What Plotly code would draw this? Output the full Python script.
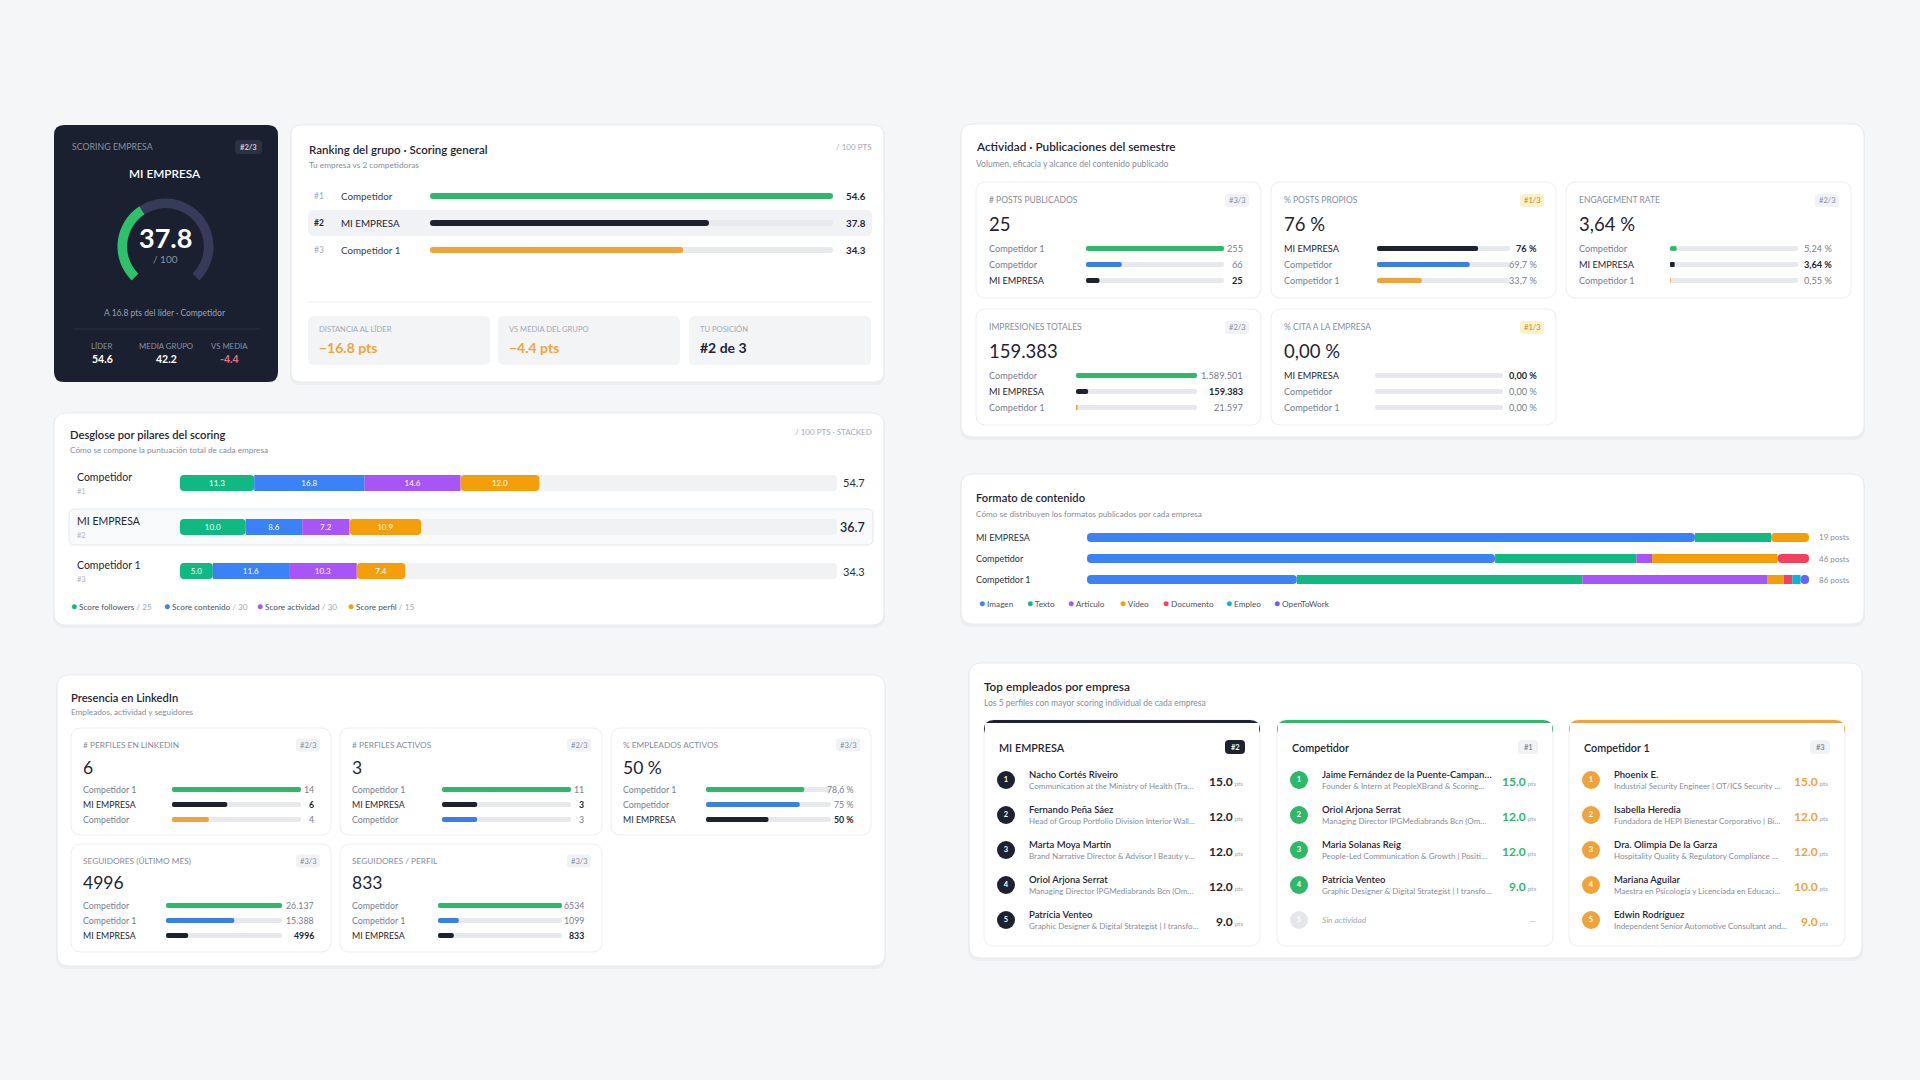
import plotly.graph_objects as go

W, H = 1920, 1080
FONT = "Lato, 'Open Sans', 'Noto Sans', sans-serif"

# ===================== DATA =====================
company_mine = "MI EMPRESA"

# Scoring card
score_mine = 37.8
score_leader = 54.6
leader_name = "Competidor"
score_group_mean = 42.2
score_vs_mean = -4.4

# Ranking
ranking_names = ["Competidor", "MI EMPRESA", "Competidor 1"]
ranking_scores = [54.6, 37.8, 34.3]

# Breakdown by pillar (stacked, / 100)
pillar_labels = ["Score followers", "Score contenido", "Score actividad", "Score perfil"]
pillar_max = [25, 30, 30, 15]
breakdown_names = ["Competidor", "MI EMPRESA", "Competidor 1"]
pillar_followers = [11.3, 10.0, 5.0]
pillar_contenido = [16.8, 8.6, 11.6]
pillar_actividad = [14.6, 7.2, 10.3]
pillar_perfil = [12.0, 10.9, 7.4]

# Activity metrics
posts_names = ["Competidor 1", "Competidor", "MI EMPRESA"]
posts_values = [255, 66, 25]
propios_names = ["MI EMPRESA", "Competidor", "Competidor 1"]
propios_values = [76, 69.7, 33.7]
engagement_names = ["Competidor", "MI EMPRESA", "Competidor 1"]
engagement_values = [5.24, 3.64, 0.55]
impresiones_names = ["Competidor", "MI EMPRESA", "Competidor 1"]
impresiones_values = [1589501, 159383, 21597]
cita_names = ["MI EMPRESA", "Competidor", "Competidor 1"]
cita_values = [0, 0, 0]

# Content format (post counts)
format_labels = ["Imagen", "Texto", "Artículo", "Vídeo", "Documento", "Empleo", "OpenToWork"]
format_names = ["MI EMPRESA", "Competidor", "Competidor 1"]
fmt_imagen = [16, 26, 25]
fmt_texto = [2, 9, 34]
fmt_articulo = [0, 1, 22]
fmt_video = [1, 8, 2]
fmt_documento = [0, 2, 1]
fmt_empleo = [0, 0, 1]
fmt_opentowork = [0, 0, 1]

# LinkedIn presence
perfiles_names = ["Competidor 1", "MI EMPRESA", "Competidor"]
perfiles_values = [14, 6, 4]
activos_names = ["Competidor 1", "MI EMPRESA", "Competidor"]
activos_values = [11, 3, 3]
empleados_names = ["Competidor 1", "Competidor", "MI EMPRESA"]
empleados_values = [78.6, 75, 50]
seguidores_names = ["Competidor", "Competidor 1", "MI EMPRESA"]
seguidores_values = [26137, 15388, 4996]
segperfil_names = ["Competidor", "Competidor 1", "MI EMPRESA"]
segperfil_values = [6534, 1099, 833]

# Top employees
emp_mi_names = ["Nacho Cortés Riveiro", "Fernando Peña Sáez", "Marta Moya Martín",
                "Oriol Arjona Serrat", "Patrícia Venteo"]
emp_mi_roles = ["Communication at the Ministry of Health (Tra…",
                "Head of Group Portfolio Division Interior Wall…",
                "Brand Narrative Director & Advisor I Beauty y…",
                "Managing Director IPGMediabrands Bcn (Om…",
                "Graphic Designer & Digital Strategist | I transfo…"]
emp_mi_scores = [15.0, 12.0, 12.0, 12.0, 9.0]
emp_comp_names = ["Jaime Fernández de la Puente-Campan…", "Oriol Arjona Serrat",
                  "Maria Solanas Reig", "Patrícia Venteo"]
emp_comp_roles = ["Founder & Intern at PeopleXBrand & Scoring…",
                  "Managing Director IPGMediabrands Bcn (Om…",
                  "People-Led Communication & Growth | Positi…",
                  "Graphic Designer & Digital Strategist | I transfo…"]
emp_comp_scores = [15.0, 12.0, 12.0, 9.0]
emp_comp1_names = ["Phoenix E.", "Isabella Heredia", "Dra. Olimpia De la Garza",
                   "Mariana Aguilar", "Edwin Rodríguez"]
emp_comp1_roles = ["Industrial Security Engineer | OT/ICS Security …",
                   "Fundadora de HEPI Bienestar Corporativo | Bi…",
                   "Hospitality Quality & Regulatory Compliance …",
                   "Maestra en Psicología y Licenciada en Educaci…",
                   "Independent Senior Automotive Consultant and…"]
emp_comp1_scores = [15.0, 12.0, 12.0, 10.0, 9.0]

# ===================== STYLE =====================
BG = "#f5f6f8"
CARD = "#ffffff"
CARD_LINE = "#e8eaee"
SUB_LINE = "#eceef2"
DARK_CARD = "#1b2030"
TXT = "#1f2533"
MUTED = "#868d9b"
GREYTXT = "#777e8e"
FAINT = "#a3a9b5"
TRACK = "#e7e9ed"
GREEN = "#2fb86a"
BLUE = "#3b7fe0"
ORANGE = "#f0a33a"
DARKBAR = "#1d2130"
RANK_COLORS = {1: GREEN, 2: BLUE, 3: ORANGE}
PILLAR_COLORS = ["#10b981", "#3b82f6", "#a855f7", "#f59e0b"]
FORMAT_COLORS = ["#3b82f6", "#10b981", "#a855f7", "#f59e0b", "#f43f5e", "#06b6d4", "#6366f1"]

shapes, annotations, traces = [], [], []
axes = {}
_axc = [0]


def X(px):
    return px / W


def Y(py):
    return 1 - py / H


def rrect(x0, y0, x1, y1, r, fill, line=None, lw=1):
    rx, ry = r / W, r / H
    a0, a1, b0, b1 = X(x0), X(x1), Y(y0), Y(y1)
    p = (f"M{a0+rx},{b0} L{a1-rx},{b0} Q{a1},{b0} {a1},{b0-ry} "
         f"L{a1},{b1+ry} Q{a1},{b1} {a1-rx},{b1} L{a0+rx},{b1} "
         f"Q{a0},{b1} {a0},{b1+ry} L{a0},{b0-ry} Q{a0},{b0} {a0+rx},{b0} Z")
    shapes.append(dict(type="path", xref="paper", yref="paper", path=p, fillcolor=fill,
                       line=dict(color=line if line else "rgba(0,0,0,0)", width=lw if line else 0),
                       layer="below"))


def card(x0, y0, x1, y1, r=12):
    rrect(x0 - 1, y0 + 1, x1 + 1, y1 + 3, r, "rgba(30,40,70,0.035)")
    rrect(x0, y0, x1, y1, r, CARD, CARD_LINE)


def hline(x0, x1, y, color):
    shapes.append(dict(type="line", xref="paper", yref="paper", x0=X(x0), x1=X(x1), y0=Y(y), y1=Y(y),
                       line=dict(color=color, width=1), layer="below"))


def txt(x, y, s, size=9, color=TXT, anchor="left", weight=400, italic=False):
    annotations.append(dict(x=X(x), y=Y(y), xref="paper", yref="paper", text=s, showarrow=False,
                            xanchor=anchor, yanchor="middle", align=anchor, borderpad=0,
                            font=dict(family=FONT, size=size, color=color, weight=weight,
                                      style="italic" if italic else "normal")))


def new_axes(x0, x1, y0, y1, xr, yr):
    _axc[0] += 1
    i = _axc[0]
    s = "" if i == 1 else str(i)
    axes["xaxis" + s] = dict(domain=[X(x0), X(x1)], range=xr, visible=False, fixedrange=True, anchor="y" + s)
    axes["yaxis" + s] = dict(domain=[Y(y1), Y(y0)], range=yr, visible=False, fixedrange=True, anchor="x" + s)
    return "x" + s, "y" + s


def pill(xa, ya, ys, starts, ends, colors, width, radius="50%"):
    """Bar rounded at both ends: two overlapping bars, one grown leftwards, one rightwards."""
    lens = [e - s for s, e in zip(starts, ends)]
    traces.append(go.Bar(x=[-0.6 * L for L in lens], base=[s + 0.6 * L for s, L in zip(starts, lens)],
                         y=ys, orientation="h", width=width,
                         marker=dict(color=colors, cornerradius=radius, line=dict(width=0)),
                         xaxis=xa, yaxis=ya, hoverinfo="skip", showlegend=False))
    traces.append(go.Bar(x=[0.6 * L for L in lens], base=[s + 0.4 * L for s, L in zip(starts, lens)],
                         y=ys, orientation="h", width=width,
                         marker=dict(color=colors, cornerradius=radius, line=dict(width=0)),
                         xaxis=xa, yaxis=ya, hoverinfo="skip", showlegend=False))


def progress_rows(x0, x1, ys, values, vmax, colors, thick, track=TRACK):
    n = len(values)
    sp = ys[1] - ys[0]
    xa, ya = new_axes(x0, x1, ys[0] - sp / 2, ys[-1] + sp / 2, [0, vmax], [n - 0.5, -0.5])
    idx = list(range(n))
    pill(xa, ya, idx, [0] * n, [vmax] * n, track, thick / sp)
    pill(xa, ya, idx, [0] * n, values, colors, thick / sp)


def segment(xa, ya, yi, start, v, color, width, kind, radius, label=None, tsize=8):
    if kind == "only":
        pill(xa, ya, [yi], [start], [start + v], color, width, radius)
        return
    if kind == "first":
        base, xv, cr = start + v, -v, radius
    elif kind == "last":
        base, xv, cr = start, v, radius
    else:
        base, xv, cr = start, v, 0
    traces.append(go.Bar(x=[xv], base=[base], y=[yi], orientation="h", width=width,
                         marker=dict(color=color, cornerradius=cr, line=dict(width=0)),
                         text=[label] if label else None, texttemplate="%{text}" if label else None,
                         textposition="inside" if label else "none", insidetextanchor="middle",
                         textangle=0, textfont=dict(color="white", size=tsize, family=FONT),
                         xaxis=xa, yaxis=ya, hoverinfo="skip", showlegend=False))


def stacked_rows(xa, ya, seg_lists, colors, width, radius, labels=False):
    n = len(seg_lists[0])
    for i in range(n):
        vals = [s[i] for s in seg_lists]
        nz = [j for j, v in enumerate(vals) if v > 0]
        cum = 0
        for j, v in enumerate(vals):
            if v > 0:
                if len(nz) == 1:
                    kind = "only"
                elif j == nz[0]:
                    kind = "first"
                elif j == nz[-1]:
                    kind = "last"
                else:
                    kind = "mid"
                segment(xa, ya, i, cum, v, colors[j], width, kind, radius,
                        label=f"{v:.1f}" if labels else None)
            cum += v


def fmt_es(v, dec=None):
    if dec is None:
        s = str(int(v)) if float(v).is_integer() else f"{v:.1f}"
    else:
        s = f"{v:.{dec}f}"
    ip, _, frac = s.partition(".")
    if len(ip) >= 5:
        parts = []
        while len(ip) > 3:
            parts.insert(0, ip[-3:])
            ip = ip[:-3]
        parts.insert(0, ip)
        ip = ".".join(parts)
    return ip + ("," + frac if frac else "")


def comp_rank(values, v):
    return 1 + sum(1 for u in values if u > v)


def bar_colors(names, values):
    return [DARKBAR if n == company_mine else RANK_COLORS[comp_rank(values, v)]
            for n, v in zip(names, values)]


def metric_card(box, label, names, values, dec, pct, bar_off, val_off, pad, dys, big_size, fs, lfs):
    x0, y0, x1, y1 = box
    rrect(x0, y0, x1, y1, 10, CARD, SUB_LINE)
    dl, db, r1, r2, r3 = dys
    txt(x0 + pad, y0 + dl, label, lfs, MUTED)
    mv = values[names.index(company_mine)]
    rk = comp_rank(values, mv)
    gold = rk == 1
    bw = 24
    rrect(x1 - pad - bw, y0 + dl - 6.5, x1 - pad, y0 + dl + 6.5, 3, "#fdf0cc" if gold else "#f1f2f5")
    txt(x1 - pad - bw / 2, y0 + dl, f"#{rk}/{len(values)}", 7.6, "#c58b1c" if gold else MUTED, anchor="center")
    suf = " %" if pct else ""
    txt(x0 + pad, y0 + db, fmt_es(mv, dec) + suf, big_size, TXT)
    ys = [y0 + r1, y0 + r2, y0 + r3]
    vmax = 100 if pct else max(values)
    progress_rows(x0 + bar_off[0], x1 - bar_off[1], ys, values, vmax, bar_colors(names, values), 5)
    for n, v, yy in zip(names, values, ys):
        m = n == company_mine
        txt(x0 + pad, yy, n, fs, TXT if m else GREYTXT)
        txt(x1 - val_off, yy, fmt_es(v, dec) + suf, fs, TXT if m else GREYTXT, anchor="right",
            weight=700 if m else 400)


# ===================== CARD A : dark scoring =====================
rrect(54, 125, 278, 382, 10, DARK_CARD)
txt(71, 146, "SCORING EMPRESA", 8.8, "#8a90a2")
mine_rank = comp_rank(ranking_scores, score_mine)
rrect(235, 140, 262, 154, 4, "#2c3245")
txt(248.5, 147, f"#{mine_rank}/{len(ranking_scores)}", 7.6, "#c9cdd8", anchor="center", weight=700)
txt(165, 173, company_mine, 11.8, "#ffffff", anchor="center", weight=600)
gauge_total = 100
gap = gauge_total * 90 / 270
traces.append(go.Pie(values=[score_mine, gauge_total - score_mine, gap],
                     marker=dict(colors=["#2ec16b", "#363c58", "rgba(0,0,0,0)"], line=dict(width=0)),
                     hole=0.8, sort=False, direction="clockwise", rotation=225,
                     textinfo="none", hoverinfo="skip", showlegend=False,
                     domain=dict(x=[X(117.5), X(213.5)], y=[Y(294.5), Y(198.5)])))
txt(165, 237, f"{score_mine:.1f}", 27, "#ffffff", anchor="center", weight=700)
txt(165, 259, "/ 100", 10, "#8a90a2", anchor="center")
txt(165, 313, f"A {score_leader - score_mine:.1f} pts del líder · {leader_name}", 8.5, "#9aa0b2", anchor="center")
hline(73, 260, 329, "#2a3043")
for xx, lab, val, col in [(102, "LÍDER", f"{score_leader:.1f}", "#ffffff"),
                          (166, "MEDIA GRUPO", f"{score_group_mean:.1f}", "#ffffff"),
                          (229, "VS MEDIA", f"{score_vs_mean:.1f}", "#e76f8a")]:
    txt(xx, 346, lab, 7.8, "#8a90a2", anchor="center")
    txt(xx, 359, val, 10.5, col, anchor="center", weight=700)

# ===================== CARD B : ranking =====================
card(291, 125, 884, 382, 10)
txt(308, 150, "Ranking del grupo · Scoring general", 11.5, TXT, weight=600)
txt(308, 165, "Tu empresa vs 2 competidoras", 8.3, MUTED)
txt(872, 147, "/ 100 PTS", 8, FAINT, anchor="right")
rank_ys = [196, 223, 250]
mi_idx = ranking_names.index(company_mine)
rrect(308, rank_ys[mi_idx] - 13, 872, rank_ys[mi_idx] + 13, 6, "#f1f2f5")
progress_rows(430, 833, rank_ys, ranking_scores, max(ranking_scores),
              bar_colors(ranking_names, ranking_scores), 6)
for i, (n, v, yy) in enumerate(zip(ranking_names, ranking_scores, rank_ys)):
    m = n == company_mine
    txt(313, yy, f"#{i + 1}", 8.5, TXT if m else FAINT, weight=700 if m else 400)
    txt(340, yy, n, 9.8, TXT if m else "#3a4050")
    txt(867, yy, f"{v:.1f}", 9.8, TXT, anchor="right", weight=700)
hline(308, 872, 302, "#eceef2")
stat_boxes = [(308, 490), (498, 680), (689, 871)]
stat_labels = ["DISTANCIA AL LÍDER", "VS MEDIA DEL GRUPO", "TU POSICIÓN"]
stat_values = [f"−{score_leader - score_mine:.1f} pts", f"−{abs(score_vs_mean):.1f} pts",
               f"#{mine_rank} de {len(ranking_scores)}"]
stat_colors = [ORANGE, ORANGE, TXT]
for (a, b), lab, val, col in zip(stat_boxes, stat_labels, stat_values, stat_colors):
    rrect(a, 316, b, 365, 6, "#f3f4f6")
    txt(a + 10, 329, lab, 7.6, FAINT)
    txt(a + 10, 348, val, 14, col, weight=700)

# ===================== CARD C : activity =====================
card(961, 124, 1864, 437, 12)
txt(975, 147, "Actividad · Publicaciones del semestre", 11.8, TXT, weight=600)
txt(975, 164, "Volumen, eficacia y alcance del contenido publicado", 8.5, MUTED)
C_DYS = (18.5, 42, 66.5, 82.5, 98.5)
CF, CL, CB = 9.2, 8.5, 18.5
metric_card((976, 182, 1261, 298), "# POSTS PUBLICADOS", posts_names, posts_values, 0, False,
            (110, 37), 17, 12, C_DYS, CB, CF, CL)
metric_card((1271, 182, 1556, 298), "% POSTS PROPIOS", propios_names, propios_values, None, True,
            (106, 46), 18, 12, C_DYS, CB, CF, CL)
metric_card((1566, 182, 1851, 298), "ENGAGEMENT RATE", engagement_names, engagement_values, 2, True,
            (104, 53), 18, 12, C_DYS, CB, CF, CL)
metric_card((976, 309, 1261, 425), "IMPRESIONES TOTALES", impresiones_names, impresiones_values, 0, False,
            (100, 64), 17, 12, C_DYS, CB, CF, CL)
metric_card((1271, 309, 1556, 425), "% CITA A LA EMPRESA", cita_names, cita_values, 2, True,
            (104, 53), 18, 12, C_DYS, CB, CF, CL)

# ===================== CARD D : breakdown =====================
card(54, 413, 884, 625, 12)
txt(69, 434, "Desglose por pilares del scoring", 11.2, TXT, weight=600)
txt(69, 450, "Cómo se compone la puntuación total de cada empresa", 8.2, MUTED)
txt(873, 432, "/ 100 PTS · STACKED", 8, FAINT, anchor="right")
d_ys = [483, 527, 571]
bmi = breakdown_names.index(company_mine)
rrect(69, d_ys[bmi] - 18, 873, d_ys[bmi] + 18, 6, "#f8fafc", "#e2e8ef")
dxa, dya = new_axes(180, 837, d_ys[0] - 22, d_ys[-1] + 22, [0, 100], [2.5, -0.5])
pill(dxa, dya, [0, 1, 2], [0, 0, 0], [100, 100, 100], "#f1f2f4", 16 / 44, radius=4)
pillars = [pillar_followers, pillar_contenido, pillar_actividad, pillar_perfil]
stacked_rows(dxa, dya, pillars, PILLAR_COLORS, 16 / 44, 4, labels=True)
for i, (n, yy) in enumerate(zip(breakdown_names, d_ys)):
    m = n == company_mine
    total = sum(p[i] for p in pillars)
    txt(76, yy - 6, n, 10.5, TXT)
    txt(76, yy + 8, f"#{i + 1}", 7.5, "#b0b5c0")
    txt(866, yy, f"{total:.1f}", 12.5 if m else 11, TXT if m else "#2a3040", anchor="right",
        weight=600 if m else 400)
for xx, lab, mx, col in zip([70, 163, 256, 347], pillar_labels, pillar_max, PILLAR_COLORS):
    txt(xx, 606, f"<span style='color:{col};font-size:10px'>●</span> {lab} <span style='color:{FAINT}'>/ {mx}</span>",
        8.2, "#4a5262")

# ===================== CARD E : content format =====================
card(961, 474, 1864, 624, 12)
txt(975, 497, "Formato de contenido", 11.2, TXT, weight=600)
txt(975, 514, "Cómo se distribuyen los formatos publicados por cada empresa", 8.2, MUTED)
f_ys = [537.5, 558.5, 579.5]
fxa, fya = new_axes(1087, 1809, f_ys[0] - 10.5, f_ys[-1] + 10.5, [0, 100], [2.5, -0.5])
fmt_counts = [fmt_imagen, fmt_texto, fmt_articulo, fmt_video, fmt_documento, fmt_empleo, fmt_opentowork]
fmt_totals = [sum(c[i] for c in fmt_counts) for i in range(len(format_names))]
fmt_pcts = [[c[i] / fmt_totals[i] * 100 for i in range(len(format_names))] for c in fmt_counts]
stacked_rows(fxa, fya, fmt_pcts, FORMAT_COLORS, 9 / 21, "50%")
for n, tot, yy in zip(format_names, fmt_totals, f_ys):
    txt(975, yy, n, 9, "#2a3040")
    txt(1851, yy, f"{tot} posts", 8, MUTED, anchor="right")
for xx, lab, col in zip([978, 1026, 1067, 1119, 1162, 1225, 1273], format_labels, FORMAT_COLORS):
    txt(xx, 603, f"<span style='color:{col};font-size:10px'>●</span> {lab}", 8.2, "#4a5262")

# ===================== CARD F : LinkedIn presence =====================
card(57, 675, 885, 966, 12)
txt(70, 697, "Presencia en LinkedIn", 11.2, TXT, weight=600)
txt(70, 712, "Empleados, actividad y seguidores", 8.2, MUTED)
F_DYS = (17, 39, 61.5, 76.5, 91.5)
FF, FL, FB = 8.8, 8.3, 17.5
metric_card((71, 728, 331, 835), "# PERFILES EN LINKEDIN", perfiles_names, perfiles_values, 0, False,
            (101, 30), 16, 11, F_DYS, FB, FF, FL)
metric_card((340, 728, 602, 835), "# PERFILES ACTIVOS", activos_names, activos_values, 0, False,
            (102, 31), 17, 11, F_DYS, FB, FF, FL)
metric_card((611, 728, 871, 835), "% EMPLEADOS ACTIVOS", empleados_names, empleados_values, None, True,
            (95, 40), 16, 11, F_DYS, FB, FF, FL)
metric_card((71, 844, 331, 952), "SEGUIDORES (ÚLTIMO MES)", seguidores_names, seguidores_values, 0, False,
            (95, 49), 16, 11, F_DYS, FB, FF, FL)
metric_card((340, 844, 602, 952), "SEGUIDORES / PERFIL", segperfil_names, segperfil_values, 0, False,
            (98, 40), 17, 11, F_DYS, FB, FF, FL)

# ===================== CARD G : top employees =====================
card(969, 663, 1862, 958, 12)
txt(983, 686, "Top empleados por empresa", 11.8, TXT, weight=600)
txt(983, 703, "Los 5 perfiles con mayor scoring individual de cada empresa", 8.5, MUTED)
emp_ys = [780, 815, 850, 885, 920]


def employee_card(x0, title, rank, accent, score_col, dark_badge, names, roles, scores):
    x1, y0, y1 = x0 + 276, 720, 946
    rrect(x0, y0, x1, y1, 10, CARD, SUB_LINE)
    rrect(x0, y0, x1, y0 + 18, 10, accent)
    shapes.append(dict(type="rect", xref="paper", yref="paper", x0=X(x0 + 1), x1=X(x1 - 1),
                       y0=Y(y0 + 20), y1=Y(y0 + 3), fillcolor=CARD, line=dict(width=0), layer="below"))
    txt(x0 + 14, 747, title, 10.8, TXT, weight=600)
    rrect(x1 - 35, 740, x1 - 15, 754, 4, DARKBAR if dark_badge else "#f1f2f5")
    txt(x1 - 25, 747, f"#{rank}", 7.5, "#ffffff" if dark_badge else MUTED, anchor="center", weight=700)
    cx = x0 + 22
    xa, ya = new_axes(cx - 12, cx + 12, emp_ys[0] - 17.5, emp_ys[-1] + 17.5, [-1, 1], [5.5, 0.5])
    n_act = len(names)
    traces.append(go.Scatter(x=[0] * 5, y=[1, 2, 3, 4, 5], mode="markers+text",
                             marker=dict(size=18, color=[accent if i < n_act else "#e4e6eb" for i in range(5)],
                                         line=dict(width=0)),
                             text=[str(i + 1) for i in range(5)], textposition="middle center",
                             textfont=dict(color="#ffffff", size=7.5, family=FONT, weight=700),
                             xaxis=xa, yaxis=ya, hoverinfo="skip", showlegend=False))
    for i, yy in enumerate(emp_ys):
        if i < n_act:
            txt(x0 + 44, yy - 6, names[i], 9.5, TXT, weight=600)
            txt(x0 + 44, yy + 6, roles[i], 8, MUTED)
            txt(x1 - 16, yy + 1,
                f"<b>{scores[i]:.1f}</b><span style='font-size:6.5px;color:{FAINT}'> pts</span>",
                12, score_col, anchor="right")
        else:
            txt(x0 + 44, yy, "Sin actividad", 8.3, FAINT, italic=True)
            txt(x1 - 16, yy, "—", 9, "#c0c4cc", anchor="right")


employee_card(984, "MI EMPRESA", comp_rank(ranking_scores, ranking_scores[ranking_names.index("MI EMPRESA")]),
              DARKBAR, TXT, True, emp_mi_names, emp_mi_roles, emp_mi_scores)
employee_card(1277, "Competidor", comp_rank(ranking_scores, ranking_scores[ranking_names.index("Competidor")]),
              GREEN, GREEN, False, emp_comp_names, emp_comp_roles, emp_comp_scores)
employee_card(1569, "Competidor 1", comp_rank(ranking_scores, ranking_scores[ranking_names.index("Competidor 1")]),
              ORANGE, ORANGE, False, emp_comp1_names, emp_comp1_roles, emp_comp1_scores)

# ===================== FIGURE =====================
fig = go.Figure(data=traces)
fig.update_layout(width=W, height=H, autosize=False, margin=dict(l=0, r=0, t=0, b=0, pad=0),
                  paper_bgcolor=BG, plot_bgcolor="rgba(0,0,0,0)", barmode="overlay",
                  showlegend=False, hovermode=False, font=dict(family=FONT),
                  shapes=shapes, annotations=annotations, **axes)
fig.write_html("out.html", config={"displayModeBar": False, "staticPlot": True},
               post_script="document.body.style.margin='0';")
